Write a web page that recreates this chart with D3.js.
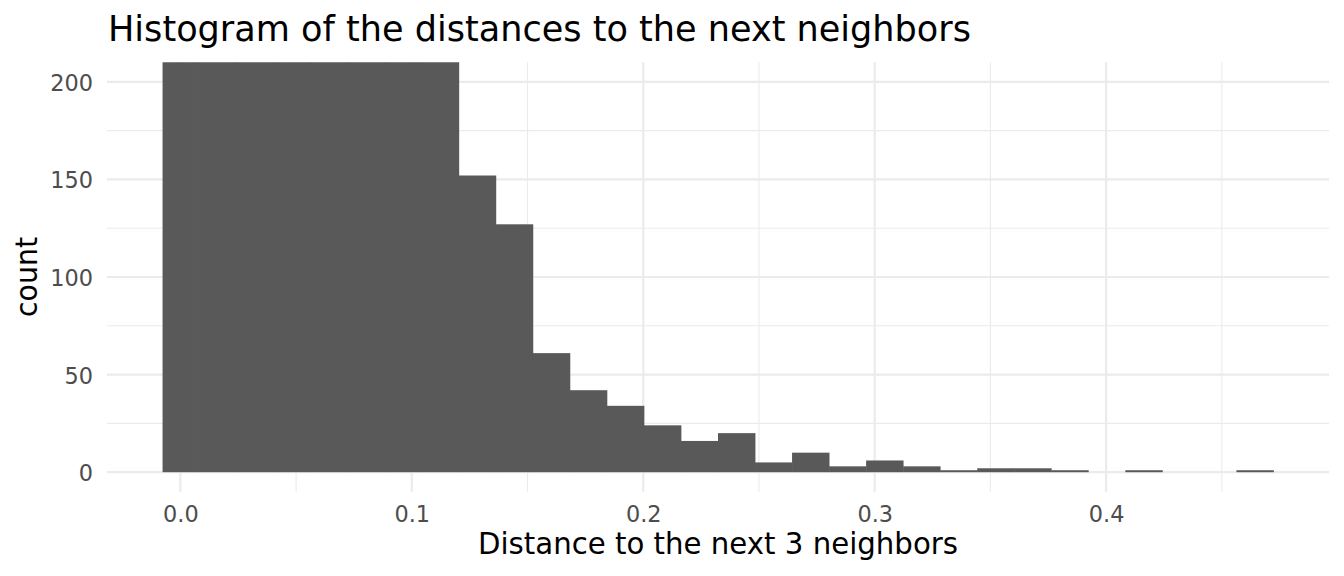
<!DOCTYPE html>
<html>
<head>
<meta charset="utf-8">
<script src="https://cdn.jsdelivr.net/npm/d3@7"></script>
<style>
  html, body { margin: 0; padding: 0; background: #fff; }
  svg { display: block; font-family: "DejaVu Sans", sans-serif; }
</style>
</head>
<body>
<svg id="chart" width="1344" height="576"></svg>
<script>
// ---- data ----
const binEdges = [-0.0077, 0.0083, 0.0243, 0.0403, 0.0563, 0.0723, 0.0883, 0.1043,
  0.1203, 0.1363, 0.1523, 0.1683, 0.1843, 0.2003, 0.2163, 0.2323, 0.2483, 0.2643,
  0.2803, 0.2963, 0.3123, 0.3283, 0.3443, 0.3603, 0.3763, 0.3923, 0.4083, 0.4243,
  0.4403, 0.4563, 0.4723];
// first eight bins are clipped above the visible range (>210); their true heights are unknown
const counts = [240, 420, 560, 610, 570, 470, 350, 235,
  152, 127, 61, 42, 34, 24, 16, 20, 5, 10, 3, 6, 3, 1, 2, 2, 1, 0, 1, 0, 0, 1];
const xTicks = [0.0, 0.1, 0.2, 0.3, 0.4];
const xMinor = [0.05, 0.15, 0.25, 0.35, 0.45];
const yTicks = [0, 50, 100, 150, 200];
const yMinor = [25, 75, 125, 175];
const titleText = "Histogram of the distances to the next neighbors";
const xTitle = "Distance to the next 3 neighbors";
const yTitle = "count";

// ---- layout ----
const panel = { left: 107, right: 1329, top: 62.3, bottom: 491.7 };
const svg = d3.select("#chart");

const xLo = binEdges[0], xHi = binEdges[binEdges.length - 1];
const xPad = (xHi - xLo) * 0.05;
const x = d3.scaleLinear().domain([xLo - xPad, xHi + xPad]).range([panel.left, panel.right]);
const y = d3.scaleLinear().domain([-10, 210]).range([panel.bottom, panel.top]);

const bins = counts.map((c, i) => ({ x0: binEdges[i], x1: binEdges[i + 1], n: c }));

// grid
const g = svg.append("g");
g.selectAll(".ymin").data(yMinor).join("line")
  .attr("x1", panel.left).attr("x2", panel.right)
  .attr("y1", d => y(d)).attr("y2", d => y(d))
  .attr("stroke", "#ebebeb").attr("stroke-width", 1.1);
g.selectAll(".xmin").data(xMinor).join("line")
  .attr("y1", panel.top).attr("y2", panel.bottom)
  .attr("x1", d => x(d)).attr("x2", d => x(d))
  .attr("stroke", "#ebebeb").attr("stroke-width", 1.1);
g.selectAll(".ymaj").data(yTicks).join("line")
  .attr("x1", panel.left).attr("x2", panel.right)
  .attr("y1", d => y(d)).attr("y2", d => y(d))
  .attr("stroke", "#ebebeb").attr("stroke-width", 2.2);
g.selectAll(".xmaj").data(xTicks).join("line")
  .attr("y1", panel.top).attr("y2", panel.bottom)
  .attr("x1", d => x(d)).attr("x2", d => x(d))
  .attr("stroke", "#ebebeb").attr("stroke-width", 2.2);

// clip
svg.append("clipPath").attr("id", "clip").append("rect")
  .attr("x", panel.left).attr("y", panel.top)
  .attr("width", panel.right - panel.left).attr("height", panel.bottom - panel.top);

svg.append("g").attr("clip-path", "url(#clip)")
  .selectAll("rect").data(bins.filter(b => b.n > 0)).join("rect")
  .attr("x", d => x(d.x0))
  .attr("width", d => x(d.x1) - x(d.x0) + 0.4)
  .attr("y", d => y(d.n))
  .attr("height", d => y(0) - y(d.n))
  .attr("fill", "#595959");

// axes (tick labels only, ggplot minimal style)
const xAxis = svg.append("g").attr("transform", `translate(0,${panel.bottom})`)
  .call(d3.axisBottom(x).tickValues(xTicks).tickFormat(d3.format(".1f")).tickSize(0));
xAxis.select(".domain").remove();
xAxis.selectAll("text").attr("font-size", 22.4).attr("fill", "#4d4d4d")
  .attr("font-family", "DejaVu Sans").attr("dy", null).attr("y", 30);

const yAxis = svg.append("g").attr("transform", `translate(${panel.left},0)`)
  .call(d3.axisLeft(y).tickValues(yTicks).tickFormat(d3.format("d")).tickSize(0));
yAxis.select(".domain").remove();
yAxis.selectAll("text").attr("font-size", 22.4).attr("fill", "#4d4d4d")
  .attr("font-family", "DejaVu Sans").attr("dy", null).attr("x", -14).attr("y", 8.5);

// titles
svg.append("text").attr("x", 108).attr("y", 40.7)
  .attr("font-size", 35).attr("fill", "#000")
  .attr("textLength", 863).attr("lengthAdjust", "spacingAndGlyphs").text(titleText);
svg.append("text").attr("x", 478).attr("y", 554)
  .attr("font-size", 29.3).attr("fill", "#000")
  .attr("textLength", 480).attr("lengthAdjust", "spacingAndGlyphs").text(xTitle);
svg.append("text").attr("transform", `translate(37,${(panel.top + panel.bottom) / 2 + 40}) rotate(-90)`)
  .attr("font-size", 29.3).attr("fill", "#000")
  .attr("textLength", 80).attr("lengthAdjust", "spacingAndGlyphs").text(yTitle);
</script>
</body>
</html>
